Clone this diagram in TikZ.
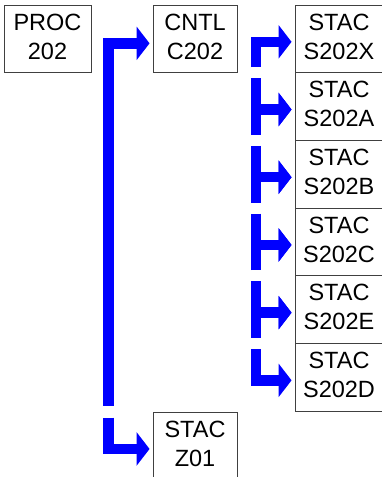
\documentclass[tikz,border=0pt]{standalone}
\usepackage{fontspec}
\setmainfont{Liberation Sans}
\usetikzlibrary{arrows.meta,positioning,calc}

\begin{document}
\begin{tikzpicture}[x=1pt,y=1pt,node distance=67.7pt,
    box node/.style={rectangle,draw=black!75,line width=0.9pt,fill=white,minimum height=67.7pt,inner sep=0pt,align=center,text depth=5pt,font=\fontsize{23.5}{29}\selectfont},
    link/.style={draw=blue,line width=10.5pt,line join=miter,shorten >=3pt,-{Triangle[length=13pt,width=33pt]}}]
    \useasboundingbox (0,0) rectangle (381,477);

    \node[box node,minimum width=87pt] (proc) at (47.5,438.15) {PROC\\202};
    \node[box node,minimum width=84pt] (cntl) at (195,438.15) {CNTL\\C202};
    \node[box node,minimum width=88pt] (sx) at (339,438.15) {STAC\\S202X};
    \node[box node,minimum width=88pt] (sa) [below of=sx] {STAC\\S202A};
    \node[box node,minimum width=88pt] (sb) [below of=sa] {STAC\\S202B};
    \node[box node,minimum width=88pt] (sc) [below of=sb] {STAC\\S202C};
    \node[box node,minimum width=88pt] (se) [below of=sc] {STAC\\S202E};
    \node[box node,minimum width=88pt] (sd) [below of=se] {STAC\\S202D};
    \node[box node,minimum width=84pt,anchor=north] (z01) at (cntl |- sd.south) {STAC\\Z01};

    \coordinate (lx) at (108.5,0);
    \coordinate (rx) at (256,0);

    \draw[link] ($(lx |- z01.north)+(0,6)$) |- ([yshift=-4.5pt]cntl.west);
    \draw[link] ($(lx |- z01.north)-(0,6)$) |- ([yshift=-3pt]z01.west);

    \draw[link] ($(rx |- sx.south)+(0,6)$) |- ([yshift=-3pt]sx.west);
    \foreach \s in {sa,sb,sc,se,sd}
        \draw[link] ($(rx |- \s.north)-(0,6)$) |- ([yshift=-3pt]\s.west);
    \foreach \s in {sa,sb,sc,se}
        \draw[link] ($(rx |- \s.south)+(0,6)$) |- ([yshift=-3pt]\s.west);

\end{tikzpicture}
\end{document}
